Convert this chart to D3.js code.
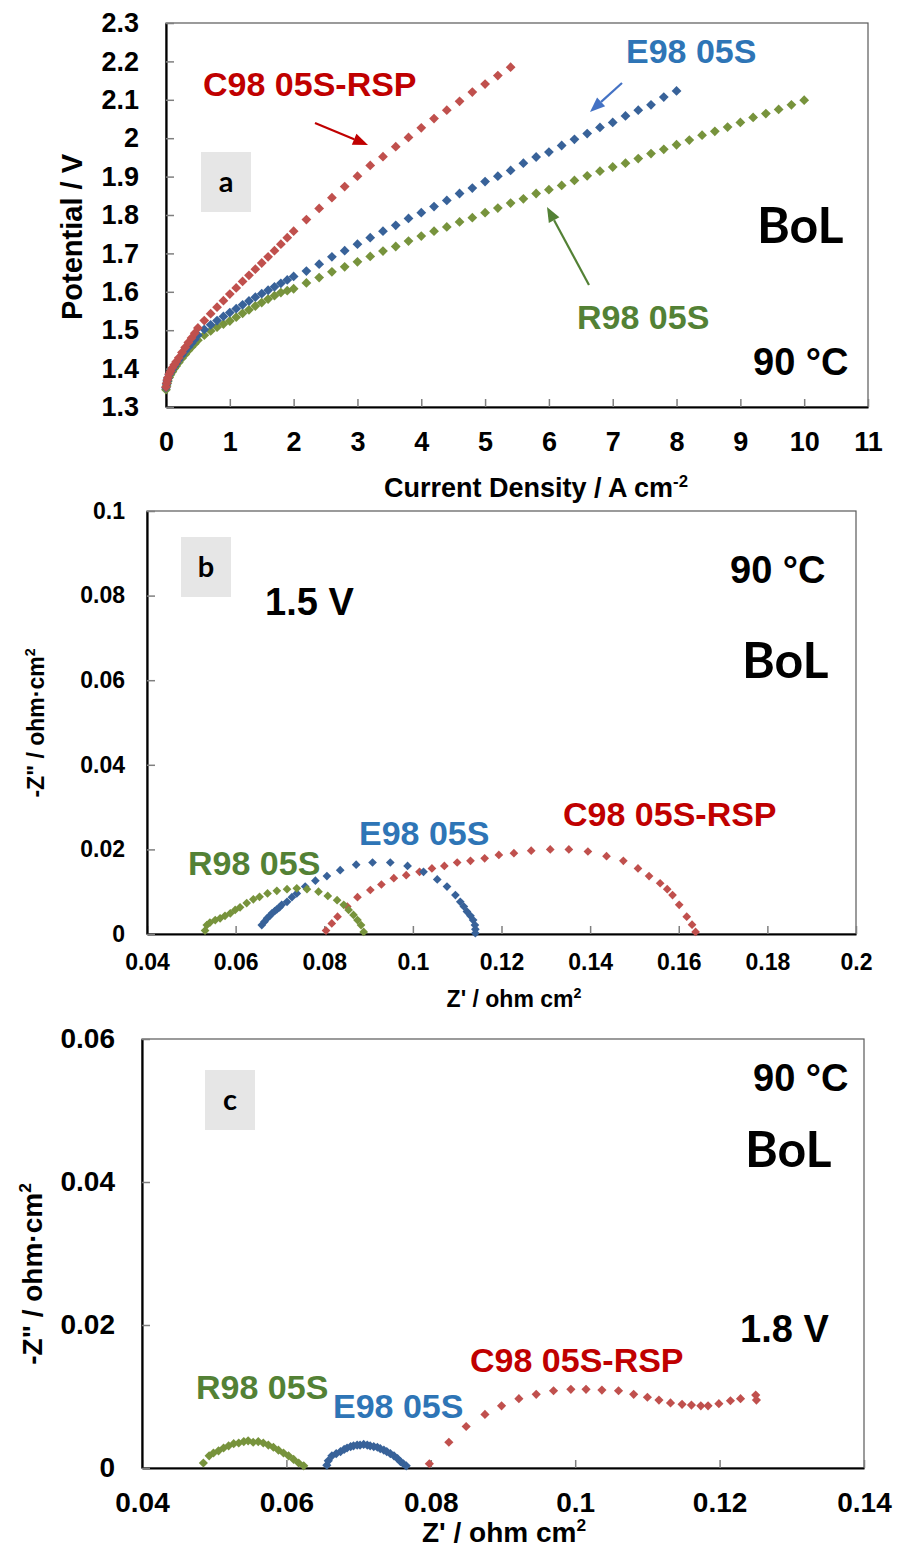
<!DOCTYPE html>
<html lang="en">
<head>
<meta charset="UTF-8">
<title>BoL polarization and impedance</title>
<script src="https://cdn.jsdelivr.net/npm/d3@7"></script>
<style>
  body { margin: 0; background: #fff; }
  svg text { font-family: "Liberation Sans", Arial, sans-serif; font-weight: bold; }
</style>
</head>
<body>
<script>
// ---- panel a : polarization curves (A cm-2 , V) ----
var aC_j = [0,0.01,0.02,0.03,0.05,0.07,0.1,0.13,0.16,0.2,0.25,0.3,0.35,0.4,0.45,0.5,
            0.6,0.7,0.8,0.9,1.0,1.1,1.2,1.3,1.4,1.5,1.6,1.7,1.8,1.9,2.0,
            2.2,2.4,2.6,2.8,3.0,3.2,3.4,3.6,3.8,4.0,4.2,4.4,4.6,4.8,5.0,5.2,5.4];
var aC_v = [1.352,1.362,1.37,1.377,1.386,1.393,1.402,1.41,1.418,1.428,1.442,1.455,1.468,1.48,1.492,1.506,
            1.525,1.543,1.56,1.577,1.594,1.61,1.627,1.643,1.659,1.675,1.691,1.707,1.724,1.741,1.758,
            1.788,1.817,1.845,1.874,1.901,1.929,1.952,1.978,2.002,2.027,2.051,2.073,2.096,2.12,2.141,2.163,2.185];

var aE_j = [0,0.01,0.02,0.03,0.05,0.07,0.1,0.13,0.16,0.2,0.25,0.3,0.35,0.4,0.45,0.5,
            0.6,0.7,0.8,0.9,1.0,1.1,1.2,1.3,1.4,1.5,1.6,1.7,1.8,1.9,2.0,
            2.2,2.4,2.6,2.8,3.0,3.2,3.4,3.6,3.8,4.0,4.2,4.4,4.6,4.8,5.0,5.2,5.4,5.6,5.8,6.0,
            6.2,6.4,6.6,6.8,7.0,7.2,7.4,7.6,7.8,8.0];
var aE_v = [1.35,1.36,1.368,1.375,1.384,1.39,1.398,1.406,1.414,1.423,1.435,1.446,1.456,1.466,1.476,1.487,
            1.502,1.514,1.525,1.536,1.546,1.556,1.566,1.576,1.586,1.595,1.604,1.613,1.622,1.631,1.640,
            1.654,1.672,1.691,1.707,1.724,1.741,1.758,1.773,1.791,1.806,1.822,1.838,1.856,1.870,1.887,1.901,1.916,1.935,1.951,1.964,
            1.981,1.997,2.012,2.028,2.041,2.058,2.073,2.087,2.107,2.123];

var aR_j = [0,0.01,0.02,0.03,0.05,0.07,0.1,0.13,0.16,0.2,0.25,0.3,0.35,0.4,0.45,0.5,
            0.6,0.7,0.8,0.9,1.0,1.1,1.2,1.3,1.4,1.5,1.6,1.7,1.8,1.9,2.0,
            2.2,2.4,2.6,2.8,3.0,3.2,3.4,3.6,3.8,4.0,4.2,4.4,4.6,4.8,5.0,5.2,5.4,5.6,5.8,6.0,
            6.2,6.4,6.6,6.8,7.0,7.2,7.4,7.6,7.8,8.0,8.2,8.4,8.6,8.8,9.0,9.2,9.4,9.6,9.8,10.0];
var aR_v = [1.345,1.355,1.362,1.368,1.377,1.384,1.392,1.40,1.407,1.416,1.427,1.437,1.447,1.456,1.465,1.474,
            1.487,1.498,1.508,1.516,1.524,1.534,1.544,1.553,1.563,1.572,1.581,1.59,1.598,1.603,1.608,
            1.623,1.637,1.652,1.665,1.678,1.692,1.706,1.718,1.732,1.745,1.758,1.769,1.782,1.793,1.806,1.818,1.831,1.842,1.856,1.866,
            1.877,1.890,1.902,1.914,1.925,1.935,1.947,1.960,1.971,1.983,1.995,2.008,2.018,2.029,2.041,2.054,2.064,2.075,2.087,2.099];

var aXTicks = [0,1,2,3,4,5,6,7,8,9,10,11];
var aYTicks = [1.3,1.4,1.5,1.6,1.7,1.8,1.9,2.0,2.1,2.2,2.3];

// ---- panel b : Nyquist at 1.5 V (ohm cm2) ----
var bR_z  = [0.0531,0.0535,0.0542,0.0554,0.0565,0.0576,0.0588,0.0599,0.0610,0.0625,0.0640,0.0654,0.0672,
             0.0693,0.0716,0.0738,0.0761,0.0787,0.0808,0.0829,0.0844,0.0855,0.0866,0.0875,0.0883,0.0889];
var bR_zz = [0.0008,0.0021,0.0027,0.0033,0.0037,0.0043,0.0049,0.0057,0.0063,0.0073,0.0082,0.0088,0.0096,
             0.0102,0.0106,0.0108,0.0106,0.0100,0.0090,0.0080,0.0069,0.0057,0.0045,0.0033,0.0021,0.0005];

var bE_z  = [0.0659,0.0665,0.0671,0.0677,0.0682,0.0688,0.0693,0.0699,0.0704,0.0716,0.0727,0.0738,0.0757,0.0780,0.0806,0.0836,
             0.0872,0.0909,0.0949,0.0988,0.1024,0.1055,0.1077,0.1096,0.1107,0.1115,0.1122,0.1130,0.1136,0.1140,0.1141,0.1141];
var bE_zz = [0.0021,0.0029,0.0037,0.0043,0.0049,0.0054,0.0058,0.0063,0.0069,0.0076,0.0087,0.0096,0.0112,0.0126,0.0137,0.0151,
             0.0164,0.0169,0.0169,0.0161,0.0147,0.0129,0.0112,0.0092,0.0076,0.0065,0.0053,0.0043,0.0033,0.0021,0.0011,0.0002];

var bC_z  = [0.0804,0.0817,0.0830,0.0852,0.0875,0.0904,0.0929,0.0957,0.0985,0.1015,0.1043,0.1071,0.1100,0.1130,0.1162,0.1194,
             0.1228,0.1267,0.1310,0.1352,0.1395,0.1437,0.1475,0.1508,0.1533,0.1558,0.1574,0.1586,0.1601,0.1618,0.1630,0.1638];
var bC_zz = [0.0008,0.0025,0.0041,0.0065,0.0087,0.0104,0.0117,0.0132,0.0139,0.0147,0.0155,0.0161,0.0169,0.0173,0.0179,0.0187,
             0.0191,0.0197,0.0200,0.0200,0.0195,0.0184,0.0173,0.0155,0.0137,0.0120,0.0106,0.0092,0.0069,0.0041,0.0022,0.0005];

var bXTicks = [0.04,0.06,0.08,0.1,0.12,0.14,0.16,0.18,0.2];
var bYTicks = [0,0.02,0.04,0.06,0.08,0.1];

// ---- panel c : Nyquist at 1.8 V ----
var cR_z  = [0.0485,0.0493,0.0499,0.0506,0.0513,0.0520,0.0527,0.0534,0.0541,0.0547,0.0554,
             0.0561,0.0568,0.0575,0.0582,0.0589,0.0596,0.0603,0.0610,0.0617,0.0624];
var cR_zz = [0.0007,0.0017,0.0021,0.0024,0.0028,0.0031,0.0034,0.0035,0.0037,0.0038,0.0036,
             0.0037,0.0035,0.0032,0.0029,0.0025,0.0021,0.0017,0.0012,0.0007,0.0003];

var cE_z  = [0.0656,0.0658,0.0663,0.0669,0.0675,0.0680,0.0684,0.0689,0.0693,0.0698,0.0702,0.0707,0.0712,
             0.0716,0.0721,0.0726,0.0730,0.0735,0.0739,0.0744,0.0749,0.0754,0.0758,0.0762,0.0766];
var cE_zz = [0.0004,0.0010,0.0017,0.0020,0.0023,0.0026,0.0028,0.0030,0.0031,0.0032,0.0032,0.0033,0.0032,
             0.0031,0.0030,0.0029,0.0027,0.0025,0.0023,0.0020,0.0017,0.0013,0.0009,0.0006,0.0003];

var cC_z  = [0.0798,0.0825,0.0849,0.0875,0.0898,0.0922,0.0946,0.0970,0.0994,0.1015,0.1037,0.1060,0.1081,
             0.1100,0.1116,0.1132,0.1148,0.1161,0.1174,0.1184,0.1199,0.1215,0.1229,0.1250,0.1251];
var cC_zz = [0.0006,0.0036,0.0058,0.0075,0.0087,0.0097,0.0103,0.0108,0.0110,0.0110,0.0109,0.0108,0.0103,
             0.0099,0.0095,0.0091,0.0089,0.0088,0.0087,0.0087,0.0090,0.0094,0.0097,0.0102,0.0095];

var cXTicks = [0.04,0.06,0.08,0.1,0.12,0.14];
var cYTicks = [0,0.02,0.04,0.06];

// colours
var colC = "#c0504d", colE = "#386299", colR = "#77933c";
var txtC = "#c00000", txtE = "#2e75b6", txtR = "#538135";

var W = 897, H = 1548;
var svg = d3.select("body").append("svg").attr("width", W).attr("height", H);

function fmt(d){ return String(+d.toFixed(2)); }

function zip(xs, ys){
    var out = [];
    for (var i = 0; i < xs.length; i++) out.push([xs[i], ys[i]]);
    return out;
}

// draw one panel: frame, axes, diamonds
function drawPanel(p){
    var x = d3.scaleLinear().domain(p.xDomain).range([p.left, p.right]);
    var y = d3.scaleLinear().domain(p.yDomain).range([p.bottom, p.top]);

    svg.append("rect")
        .attr("x", p.left).attr("y", p.top)
        .attr("width", p.right - p.left).attr("height", p.bottom - p.top)
        .attr("fill", "none").attr("stroke", "#595959").attr("stroke-width", 1.2);

    var gx = svg.append("g").attr("transform", "translate(0," + p.bottom + ")")
        .call(d3.axisBottom(x).tickValues(p.xTicks).tickSizeInner(-8).tickSizeOuter(0)
            .tickPadding(p.xPad).tickFormat(fmt));
    var gy = svg.append("g").attr("transform", "translate(" + p.left + ",0)")
        .call(d3.axisLeft(y).tickValues(p.yTicks).tickSizeInner(-8).tickSizeOuter(0)
            .tickPadding(p.yPad).tickFormat(fmt));

    [gx, gy].forEach(function(g){
        g.select(".domain").attr("stroke", "#000").attr("stroke-width", 2.2);
        g.selectAll(".tick line").attr("stroke", "#7f7f7f").attr("stroke-width", 1.5);
        g.selectAll(".tick text").attr("font-size", p.font).attr("fill", "#000");
    });

    var sym = d3.symbol().type(d3.symbolSquare).size(p.marker);
    p.series.forEach(function(s){
        svg.append("g").selectAll("path")
            .data(zip(s.x, s.y))
            .enter().append("path")
            .attr("d", sym)
            .attr("transform", function(d){ return "translate(" + x(d[0]) + "," + y(d[1]) + ") rotate(45)"; })
            .attr("fill", s.color);
    });
}

function label(txt, px, py, size, color, family){
    var t = svg.append("text").attr("x", px).attr("y", py)
        .attr("font-size", size).attr("fill", color || "#000").text(txt);
    if (family) t.style("font-family", family);
    return t;
}

function boxLabel(txt, bx, by){
    svg.append("rect").attr("x", bx).attr("y", by).attr("width", 50).attr("height", 60).attr("fill", "#e6e6e6");
    label(txt, bx + 25, by + 40, 29, "#000", "Lato, 'Open Sans', sans-serif").attr("text-anchor", "middle");
}

function titleSup(txt, sup, px, py, size, rotate){
    var t = svg.append("text").attr("font-size", size).attr("text-anchor", "middle");
    if (rotate) t.attr("transform", "translate(" + px + "," + py + ") rotate(-90)");
    else t.attr("x", px).attr("y", py);
    t.append("tspan").text(txt);
    if (sup) t.append("tspan").attr("dy", -size * 0.38).attr("font-size", size * 0.62).text(sup);
}

function arrow(x1, y1, x2, y2, color){
    var a = Math.atan2(y2 - y1, x2 - x1), L = 15, w = 6;
    var bx = x2 - L * Math.cos(a), by = y2 - L * Math.sin(a);
    svg.append("line").attr("x1", x1).attr("y1", y1).attr("x2", bx).attr("y2", by)
        .attr("stroke", color).attr("stroke-width", 2.2);
    svg.append("path")
        .attr("d", "M" + x2 + "," + y2 +
            "L" + (bx + w * Math.sin(a)) + "," + (by - w * Math.cos(a)) +
            "L" + (bx - w * Math.sin(a)) + "," + (by + w * Math.cos(a)) + "Z")
        .attr("fill", color);
}

// ---------- panel a ----------
drawPanel({
    left: 166, right: 868, top: 23, bottom: 407,
    xDomain: [0, 11], yDomain: [1.3, 2.3], xTicks: aXTicks, yTicks: aYTicks,
    xPad: 25, yPad: 27, font: 27, marker: 48,
    series: [
        {x: aR_j, y: aR_v, color: colR},
        {x: aE_j, y: aE_v, color: colE},
        {x: aC_j, y: aC_v, color: colC}
    ]
});
boxLabel("a", 201, 152);
label("C98 05S-RSP", 203, 96, 34, txtC);
label("E98 05S", 626, 63, 34, txtE);
label("R98 05S", 577, 329, 34, txtR);
label("BoL", 757, 243, 50, "#000", "Lato, sans-serif");
label("90 °C", 753, 375, 38);
arrow(315, 123, 368, 145, txtC);
arrow(622, 83, 590, 112, "#4472c4");
arrow(589, 285, 547, 207, txtR);
titleSup("Current Density / A cm", "-2", 536, 497, 27, false);
titleSup("Potential / V", null, 82, 237, 29, true);

// ---------- panel b ----------
drawPanel({
    left: 147, right: 856, top: 511, bottom: 934,
    xDomain: [0.04, 0.2], yDomain: [0, 0.1], xTicks: bXTicks, yTicks: bYTicks,
    xPad: 20, yPad: 22, font: 23, marker: 38,
    series: [
        {x: bC_z, y: bC_zz, color: colC},
        {x: bE_z, y: bE_zz, color: colE},
        {x: bR_z, y: bR_zz, color: colR}
    ]
});
boxLabel("b", 181, 537);
label("1.5 V", 265, 615, 38);
label("90 °C", 730, 583, 38);
label("BoL", 742, 678, 50, "#000", "Lato, sans-serif");
label("C98 05S-RSP", 563, 826, 34, txtC);
label("E98 05S", 359, 845, 34, txtE);
label("R98 05S", 188, 875, 34, txtR);
titleSup("Z' / ohm cm", "2", 514, 1007, 23, false);
titleSup("-Z\" / ohm\u00b7cm", "2", 44, 723, 23, true);

// ---------- panel c ----------
drawPanel({
    left: 142, right: 864, top: 1039, bottom: 1468,
    xDomain: [0.04, 0.14], yDomain: [0, 0.06], xTicks: cXTicks, yTicks: cYTicks,
    xPad: 24, yPad: 27, font: 28, marker: 42,
    series: [
        {x: cC_z, y: cC_zz, color: colC},
        {x: cE_z, y: cE_zz, color: colE},
        {x: cR_z, y: cR_zz, color: colR}
    ]
});
boxLabel("c", 205, 1070);
label("90 °C", 753, 1091, 38);
label("BoL", 745, 1167, 50, "#000", "Lato, sans-serif");
label("1.8 V", 740, 1342, 38);
label("C98 05S-RSP", 470, 1372, 34, txtC);
label("R98 05S", 196, 1399, 34, txtR);
label("E98 05S", 333, 1418, 34, txtE);
titleSup("Z' / ohm cm", "2", 504, 1542, 28, false);
titleSup("-Z\" / ohm\u00b7cm", "2", 42, 1274, 28, true);
</script>
</body>
</html>
